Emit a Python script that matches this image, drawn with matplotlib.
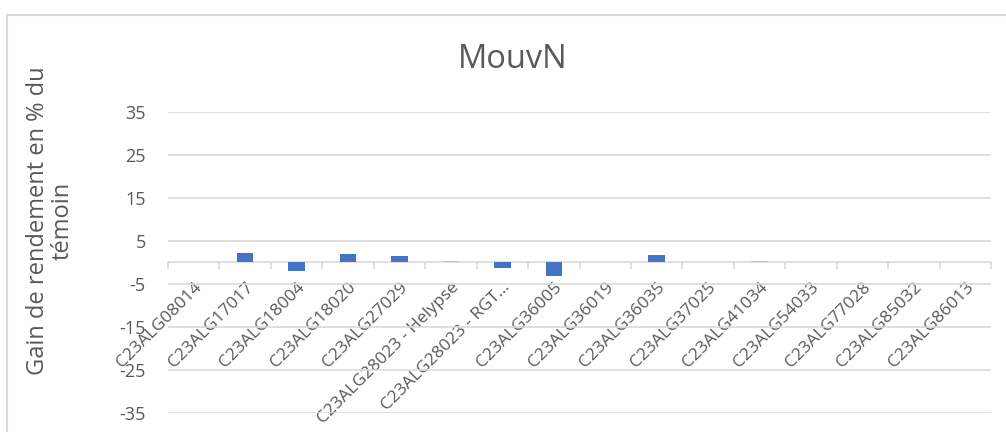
import matplotlib
matplotlib.use("Agg")
import matplotlib.pyplot as plt
from matplotlib.lines import Line2D
import numpy as np

plt.rcParams['font.family'] = ['Open Sans', 'DejaVu Sans']

# Data
categories = ['C23ALG08014', 'C23ALG17017', 'C23ALG18004', 'C23ALG18020',
              'C23ALG27029', 'C23ALG28023 - Helypse', 'C23ALG28023 - RGT…',
              'C23ALG36005', 'C23ALG36019', 'C23ALG36035', 'C23ALG37025',
              'C23ALG41034', 'C23ALG54033', 'C23ALG77028', 'C23ALG85032',
              'C23ALG86013']
gains = [0.0, 2.2, -1.9, 1.9, 1.6, 0.4, -1.3, -3.2, 0.0, 1.7, 0.0, 0.4,
         0.0, 0.0, 0.0, 0.0]
yticks = [-35, -25, -15, -5, 5, 15, 25, 35]

dark = '#4472C4'
light = '#B4C7E7'
colors = [light if c in ('C23ALG28023 - Helypse', 'C23ALG41034') else dark
          for c in categories]
text_col = '#595959'
grid_col = '#D9D9D9'

fig = plt.figure(figsize=(10.06, 4.32), dpi=100)
ax = fig.add_axes([168 / 1006, 1 - 413 / 432, (991 - 168) / 1006, (413 - 112) / 432])

x = np.arange(len(categories))
ax.bar(x, gains, width=0.32, color=colors, zorder=3)

ax.set_xlim(-0.5, len(categories) - 0.5)
ax.set_ylim(-35, 35)
ax.set_yticks(yticks)
ax.set_yticklabels([str(v) for v in yticks])
ax.yaxis.grid(True, color=grid_col, linewidth=1.2, zorder=0)
ax.tick_params(axis='y', length=0, labelsize=13, labelcolor=text_col, pad=16)

for side in ('top', 'right', 'left'):
    ax.spines[side].set_visible(False)
ax.spines['bottom'].set_position(('data', 0))
ax.spines['bottom'].set_color(grid_col)
ax.spines['bottom'].set_linewidth(1.2)
ax.spines['bottom'].set_zorder(2)

ax.set_xticks(x)
ax.set_xticklabels(categories, rotation=45, ha='right', va='top',
                   rotation_mode='anchor')
ax.set_xticks(np.arange(len(categories) + 1) - 0.5, minor=True)
ax.tick_params(axis='x', which='major', length=0, labelsize=12.5,
               labelcolor=text_col, pad=12)
ax.tick_params(axis='x', which='minor', length=5, width=1.2, color=grid_col,
               direction='out')

fig.text(513 / 1006, 1 - 59 / 432, 'MouvN', ha='center', va='center',
         fontsize=23.5, color=text_col)
fig.text(50 / 1006, 1 - 221 / 432, 'Gain de rendement en % du\ntémoin',
         rotation=90, ha='center', va='center', fontsize=17, color=text_col,
         linespacing=1.05, multialignment='center')

# chart border (cropped on the right and bottom)
fig.add_artist(Line2D([7 / 1006, 7 / 1006], [0, 1 - 15 / 432],
                      transform=fig.transFigure, color=grid_col, linewidth=1.5))
fig.add_artist(Line2D([7 / 1006, 1], [1 - 15 / 432, 1 - 15 / 432],
                      transform=fig.transFigure, color=grid_col, linewidth=1.5))

fig.savefig('out.png', dpi=100)
